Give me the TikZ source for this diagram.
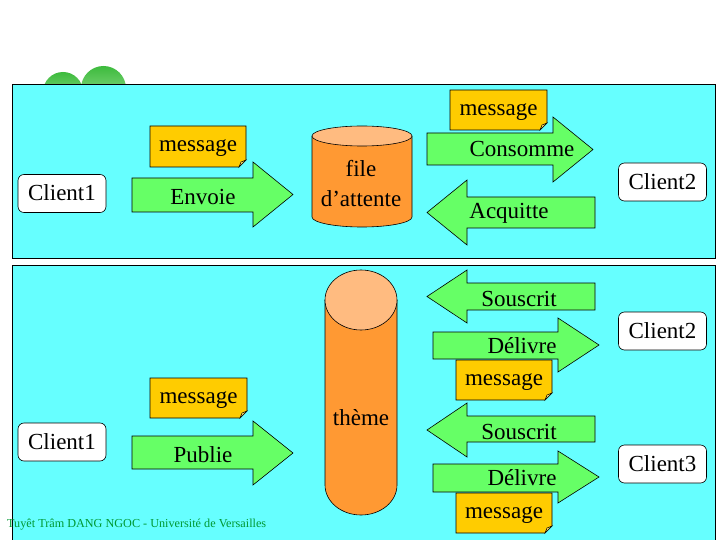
\documentclass[tikz,border=0pt]{standalone}
\usepackage{fontspec}
\setmainfont{Liberation Serif}
\definecolor{panel}{HTML}{66FFFF}
\definecolor{arrowg}{HTML}{66FF66}
\definecolor{notec}{HTML}{FFCC00}
\definecolor{cylc}{HTML}{FF9933}
\definecolor{cyltop}{HTML}{FFBB80}
\definecolor{footc}{HTML}{009933}
\definecolor{cloudtop}{HTML}{3DBB3D}
\definecolor{cloudbot}{HTML}{A6E3A0}
\newcommand\mynote[5]{%
  \draw[notebox] (#1,#2) -- (#3,#2) -- (#3,#4-7) -- (#3-7,#4) -- (#1,#4) -- cycle;
  \draw[line width=0.5pt, fill=notec!60!white] (#3-7,#4) -- (#3-5,#4-5) -- (#3,#4-7) -- cycle;
  \node[lbl] (#5) at ({(#1+#3)/2},{(#2+#4)/2-2}) {message};}
\begin{document}
\begin{tikzpicture}[x=1pt,y=-1pt,
  lbl/.style={font=\fontsize{23}{27}\selectfont, inner sep=0pt, text height=15pt, text depth=0pt},
  client/.style={lbl, draw, fill=white, rounded corners=6pt, minimum width=88pt, minimum height=38pt, line width=0.6pt},
  blk/.style={draw, fill=arrowg, line width=0.6pt, line join=miter},
  notebox/.style={draw, fill=notec, line width=0.6pt},
  cyl/.style={draw, line width=0.6pt}]
\useasboundingbox (0,0) rectangle (720,540);
\fill[white] (0,0) rectangle (720,540);
% clouds
\shade[top color=cloudtop, bottom color=cloudbot] (63,92) circle[radius=20pt];
\shade[top color=cloudtop, bottom color=cloudbot] (103.5,88.5) circle[radius=22.5pt];
% panels
\draw[fill=panel, line width=0.6pt] (12,84) rectangle (715,258);
\fill[panel] (12,265) rectangle (715,540);
\draw[line width=0.6pt] (12,541) -- (12,265) -- (715,265) -- (715,541);
% ---------- top panel ----------
\node[client] (c1a) at (62,193.5) {Client1};
\node[client] (c2a) at (662.5,182) {Client2};
% cylinder file d'attente
\fill[cylc] (312,136) rectangle (412,217);
\draw[cyl, fill=cylc] (312,136) -- (312,217) arc[start angle=180, end angle=360, x radius=50pt, y radius=10pt] -- (412,136);
\draw[cyl, fill=cyltop] (362,136) ellipse[x radius=50pt, y radius=10pt];
\node[lbl] (fa1) at (361,169.5) {file};
\node[lbl] (fa2) at (361,199.5) {d’attente};
% arrows
\draw[blk] (132,178) -- (253,178) -- (253,162) -- (293,194.5) -- (253,227) -- (253,212) -- (132,212) -- cycle;
\node[lbl] (envoie) at (203,197) {Envoie};
\draw[blk] (427,133) -- (553,133) -- (553,117) -- (593,149.5) -- (553,182) -- (553,165) -- (427,165) -- cycle;
\node[lbl] (consomme) at (522,149) {Consomme};
\draw[blk] (595,197) -- (467,197) -- (467,180) -- (427,212.5) -- (467,245) -- (467,228) -- (595,228) -- cycle;
\node[lbl] (acquitte) at (509,211) {Acquitte};
\mynote{150}{126}{246}{167}{m1}
\mynote{450}{90}{547}{130}{m2}
% ---------- bottom panel ----------
\node[client] (c1b) at (62,442) {Client1};
\node[client] (c2b) at (662.5,331) {Client2};
\node[client] (c3b) at (662.5,464) {Client3};
% cylinder theme
\fill[cylc] (325,300) rectangle (397,485);
\draw[cyl, fill=cylc] (325,300) -- (325,485) arc[start angle=180, end angle=360, x radius=36pt, y radius=30pt] -- (397,300);
\draw[cyl, fill=cyltop] (361,300) ellipse[x radius=36pt, y radius=30pt];
\node[lbl] (theme) at (361,418) {thème};
% arrows
\draw[blk] (132,436) -- (253,436) -- (253,421) -- (293,453) -- (253,485) -- (253,469) -- (132,469) -- cycle;
\node[lbl] (publie) at (203,454.5) {Publie};
\draw[blk] (595,283) -- (467,283) -- (467,270) -- (427,296.5) -- (467,323) -- (467,310) -- (595,310) -- cycle;
\node[lbl] (sous1) at (519,298.5) {Souscrit};
\draw[blk] (433,332) -- (558,332) -- (558,318) -- (599,345) -- (558,372) -- (558,359) -- (433,359) -- cycle;
\node[lbl] (deliv1) at (522,346) {Délivre};
\draw[blk] (595,416) -- (467,416) -- (467,403) -- (427,430) -- (467,457) -- (467,442) -- (595,442) -- cycle;
\node[lbl] (sous2) at (519,431.5) {Souscrit};
\draw[blk] (433,464) -- (558,464) -- (558,451) -- (599,477) -- (558,503) -- (558,492) -- (433,492) -- cycle;
\node[lbl] (deliv2) at (522,478) {Délivre};
\mynote{150}{378}{247}{418}{m3}
\mynote{456}{360}{552}{400}{m4}
\mynote{456}{493}{552}{533}{m5}
% footer
\node[anchor=west, inner sep=0pt, text=footc, font=\fontsize{12.2}{14}\selectfont] (foot) at (7,525) {Tuyêt Trâm DANG NGOC - Université de Versailles};
\end{tikzpicture}
\end{document}
